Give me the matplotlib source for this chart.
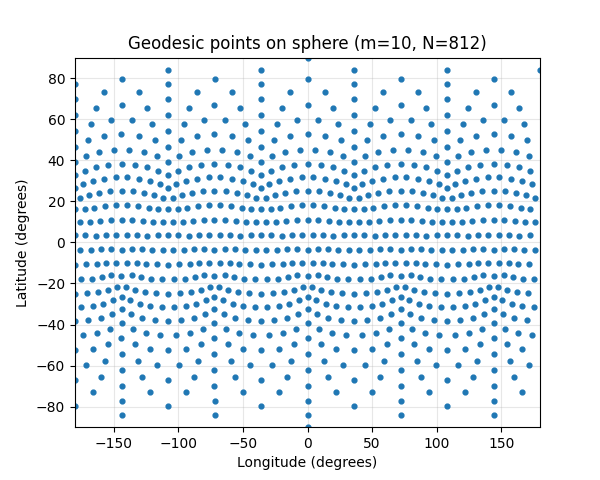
import numpy as np
import matplotlib
matplotlib.use("Agg")
import matplotlib.pyplot as plt

# Parameters
m = 10                      # points per icosahedron edge
title = "Geodesic points on sphere (m=10, N=812)"
xlabel = "Longitude (degrees)"
ylabel = "Latitude (degrees)"
xticks = [-150, -100, -50, 0, 50, 100, 150]
yticks = [-80, -60, -40, -20, 0, 20, 40, 60, 80]

# Icosahedron vertices (lat, lon in degrees)
ring_lat = np.degrees(np.arctan(0.5))
upper_lon = [36, 108, 180, 252, 324]
lower_lon = [0, 72, 144, 216, 288]


def xyz(lat, lon):
    la, lo = np.radians(lat), np.radians(lon)
    return np.array([np.cos(la) * np.cos(lo), np.cos(la) * np.sin(lo), np.sin(la)])


N_pole = xyz(90, 0)
S_pole = xyz(-90, 0)
U = [xyz(ring_lat, l) for l in upper_lon]
L = [xyz(-ring_lat, l) for l in lower_lon]

faces = []
for k in range(5):
    k1 = (k + 1) % 5
    faces.append((N_pole, U[k], U[k1]))
    faces.append((S_pole, L[k], L[k1]))
    faces.append((U[k], L[k], L[k1]))
    faces.append((U[k], U[k1], L[k1]))

n = m - 1
pts = {}
for A, B, C in faces:
    for i in range(n + 1):
        for j in range(n + 1 - i):
            p = A + (B - A) * i / n + (C - A) * j / n
            p = p / np.linalg.norm(p)
            key = tuple(np.round(p, 6))
            pts[key] = p
P = np.array(list(pts.values()))
P[np.abs(P) < 1e-12] = 0.0
lat = np.degrees(np.arcsin(np.clip(P[:, 2], -1, 1)))
lon = np.degrees(np.arctan2(P[:, 1], P[:, 0]))
# points on the 180° meridian sit at -180 in the reference, except the one next to the north pole
on_seam = (np.abs(np.abs(lon) - 180) < 1e-6)
lon = np.where(on_seam & (lat < 83), -180.0, lon)
lon = np.where(on_seam & (lat >= 83), 180.0, lon)

fig, ax = plt.subplots(figsize=(6, 4.8), dpi=100)
ax.scatter(lon, lat, s=12, color="tab:blue", zorder=2)
ax.set_xlim(-180, 180)
ax.set_ylim(-90, 90)
ax.set_xticks(xticks)
ax.set_yticks(yticks)
ax.grid(True, alpha=0.3, zorder=0)
ax.set_title(title)
ax.set_xlabel(xlabel)
ax.set_ylabel(ylabel)
fig.savefig("out.png")
print(len(P))
